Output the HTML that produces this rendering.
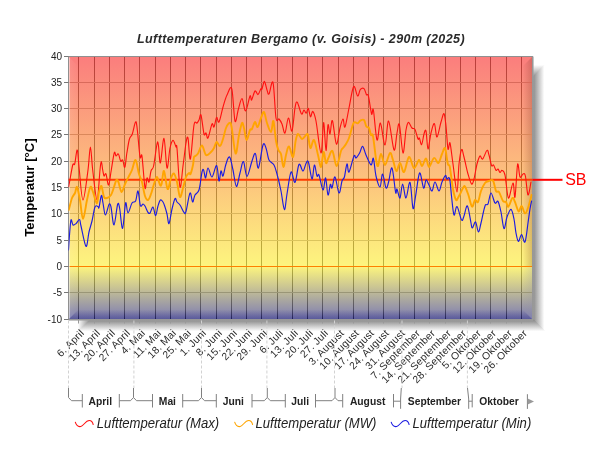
<!DOCTYPE html>
<html lang="de"><head><meta charset="utf-8"><title>Lufttemperaturen Bergamo</title>
<style>html,body{margin:0;padding:0;background:#fff;}svg{display:block;}text{font-family:"Liberation Sans", sans-serif;}</style></head><body>
<svg width="600" height="450" viewBox="0 0 600 450">
<defs>
<linearGradient id="bg" gradientUnits="userSpaceOnUse" x1="0" y1="56" x2="0" y2="319.5">
<stop offset="0" stop-color="rgb(251,125,125)"/>
<stop offset="0.798" stop-color="rgb(253,245,126)"/>
<stop offset="1" stop-color="rgb(122,122,180)"/>
</linearGradient>
<linearGradient id="gv" gradientUnits="userSpaceOnUse" x1="0" y1="56" x2="0" y2="319.5">
<stop offset="0" stop-color="rgb(186,60,60)"/>
<stop offset="0.798" stop-color="rgb(188,180,61)"/>
<stop offset="0.962" stop-color="rgb(82,80,105)"/>
<stop offset="1" stop-color="rgb(28,28,92)"/>
</linearGradient>
<linearGradient id="shR" x1="0" y1="0" x2="1" y2="0"><stop offset="0" stop-color="#848484"/><stop offset="1" stop-color="#ffffff"/></linearGradient>
<linearGradient id="shL" x1="0" y1="0" x2="1" y2="0"><stop offset="0" stop-color="#ffffff"/><stop offset="1" stop-color="#848484"/></linearGradient>
<linearGradient id="shB" x1="0" y1="0" x2="0" y2="1"><stop offset="0" stop-color="#848484"/><stop offset="1" stop-color="#ffffff"/></linearGradient>
<linearGradient id="shT" x1="0" y1="0" x2="0" y2="1"><stop offset="0" stop-color="#ffffff"/><stop offset="1" stop-color="#848484"/></linearGradient>
<linearGradient id="bvR" x1="0" y1="0" x2="1" y2="0"><stop offset="0" stop-color="#602020" stop-opacity="0"/><stop offset="1" stop-color="#602010" stop-opacity="0.24"/></linearGradient>
<linearGradient id="bvR2" x1="0" y1="0" x2="1" y2="0"><stop offset="0" stop-color="#9090a0" stop-opacity="0"/><stop offset="1" stop-color="#9090a0" stop-opacity="0.25"/></linearGradient>
<linearGradient id="bvB" x1="0" y1="0" x2="0" y2="1"><stop offset="0" stop-color="rgb(40,40,120)" stop-opacity="0"/><stop offset="1" stop-color="rgb(40,40,120)" stop-opacity="0.42"/></linearGradient>
<linearGradient id="bvL" x1="0" y1="0" x2="1" y2="0"><stop offset="0" stop-color="#fff" stop-opacity="0.10"/><stop offset="1" stop-color="#fff" stop-opacity="0"/></linearGradient>
<clipPath id="cp"><rect x="68.5" y="56.5" width="464.0" height="263.0"/></clipPath>
</defs>
<rect width="600" height="450" fill="#fff"/>
<polygon points="532.5,65 544.2,65 544.2,66 533.5,78.0 532.5,78.0" fill="url(#shT)"/>
<polygon points="78,319.5 91.0,319.5 91.0,320.5 79,331.2 78,331.2" fill="url(#shL)"/>
<polygon points="532.5,77.0 544.2,65 544.2,331.2 532.5,319.5" fill="url(#shR)"/>
<polygon points="90.0,319.5 533.7,319.5 545.4000000000001,331.2 78,331.2" fill="url(#shB)"/>
<rect x="68.5" y="56.5" width="464.0" height="263.0" fill="url(#bg)"/>
<polygon points="522.5,66.5 532.5,56.5 532.5,266.5 522.5,266.5" fill="url(#bvR)"/>
<polygon points="522.5,266.5 532.5,266.5 532.5,319.5 522.5,309.5" fill="url(#bvR2)"/>
<polygon points="78.5,309.5 522.5,309.5 532.5,319.5 68.5,319.5" fill="url(#bvB)"/>
<polygon points="68.5,56.5 78.5,66.5 78.5,309.5 68.5,319.5" fill="url(#bvL)"/>
<path d="M78.50,56.5V319.5M94.50,56.5V319.5M109.50,56.5V319.5M124.50,56.5V319.5M139.50,56.5V319.5M155.50,56.5V319.5M170.50,56.5V319.5M185.50,56.5V319.5M200.50,56.5V319.5M216.50,56.5V319.5M231.50,56.5V319.5M246.50,56.5V319.5M261.50,56.5V319.5M277.50,56.5V319.5M292.50,56.5V319.5M307.50,56.5V319.5M322.50,56.5V319.5M338.50,56.5V319.5M353.50,56.5V319.5M368.50,56.5V319.5M383.50,56.5V319.5M399.50,56.5V319.5M414.50,56.5V319.5M429.50,56.5V319.5M445.50,56.5V319.5M460.50,56.5V319.5M475.50,56.5V319.5M490.50,56.5V319.5M506.50,56.5V319.5M521.50,56.5V319.5" stroke="url(#gv)" stroke-width="1" fill="none"/>
<line x1="68.5" x2="532.5" y1="292.5" y2="292.5" stroke="rgb(154,150,119)" stroke-width="1"/>
<line x1="68.5" x2="532.5" y1="240.5" y2="240.5" stroke="rgb(219,196,92)" stroke-width="1"/>
<line x1="68.5" x2="532.5" y1="213.5" y2="213.5" stroke="rgb(218,181,92)" stroke-width="1"/>
<line x1="68.5" x2="532.5" y1="187.5" y2="187.5" stroke="rgb(218,166,92)" stroke-width="1"/>
<line x1="68.5" x2="532.5" y1="161.5" y2="161.5" stroke="rgb(218,151,92)" stroke-width="1"/>
<line x1="68.5" x2="532.5" y1="134.5" y2="134.5" stroke="rgb(218,136,91)" stroke-width="1"/>
<line x1="68.5" x2="532.5" y1="108.5" y2="108.5" stroke="rgb(217,121,91)" stroke-width="1"/>
<line x1="68.5" x2="532.5" y1="82.5" y2="82.5" stroke="rgb(217,106,91)" stroke-width="1"/>
<line x1="68.5" x2="532.5" y1="266.50" y2="266.50" stroke="#ff8000" stroke-width="1.2"/>
<rect x="68.5" y="56.5" width="464.0" height="263.0" fill="none" stroke="#909090" stroke-width="1"/>
<path d="M533.1,56.5V320.1H68.5" fill="none" stroke="#a0a0a0" stroke-width="1"/>
<line x1="69.5" x2="69.5" y1="57.5" y2="318.5" stroke="#fff" stroke-opacity="0.45" stroke-width="1"/>
<line x1="68.5" x2="532.5" y1="179.8" y2="179.8" stroke="#ff3c00" stroke-width="2"/>
<line x1="532.5" x2="562.5" y1="179.8" y2="179.8" stroke="#ff0000" stroke-width="2"/>
<text transform="translate(565.2,185.3) scale(0.925,1)" font-size="17.3" fill="#ff0000">SB</text>
<g clip-path="url(#cp)" fill="none" stroke-linejoin="round" stroke-linecap="round">
<path d="M68.5,186.0C68.6,185.8 68.5,188.5 69.0,185.0C69.7,181.5 71.8,168.5 72.7,165.0C73.7,161.5 73.9,166.5 74.7,164.0C75.5,161.5 76.5,149.0 77.3,150.0C78.1,151.0 78.3,161.7 79.3,170.0C80.2,178.3 81.5,200.0 83.0,200.0C84.5,200.0 86.8,178.8 88.0,170.0C89.2,161.2 89.6,147.0 90.4,147.0C91.2,147.0 91.6,161.2 92.7,170.0C93.8,178.8 95.8,200.0 97.0,200.0C98.2,200.0 99.3,176.4 100.0,170.0C100.7,163.6 100.8,161.5 101.3,161.5C101.8,161.5 102.2,167.6 102.7,170.0C103.2,172.4 103.5,175.3 104.0,176.0C104.5,176.7 105.2,172.5 106.0,174.0C106.8,175.5 107.7,185.7 108.6,185.0C109.5,184.3 110.3,175.4 111.3,170.0C112.2,164.6 113.5,155.0 114.3,152.7C115.1,150.4 115.3,155.8 116.0,156.0C116.7,156.2 117.6,153.1 118.4,154.0C119.2,154.9 120.0,160.3 120.7,161.3C121.4,162.3 122.0,159.0 122.7,160.0C123.4,161.0 124.1,168.3 124.8,167.3C125.5,166.3 126.0,158.6 126.7,154.0C127.5,149.4 128.4,142.8 129.3,139.5C130.2,136.2 131.3,136.9 132.3,134.0C133.3,131.1 134.6,123.5 135.4,122.3C136.2,121.1 136.2,121.3 137.0,127.0C137.8,132.7 139.2,151.8 140.0,156.7C140.8,161.6 141.2,151.1 142.0,156.3C142.8,161.5 144.2,184.4 145.0,188.0C145.8,191.6 146.3,179.0 147.0,178.0C147.7,177.0 148.3,183.2 149.0,182.0C149.7,180.8 150.2,173.7 151.0,171.0C151.8,168.3 152.6,170.5 153.6,166.0C154.6,161.5 156.2,147.5 157.0,144.0C157.8,140.5 157.8,141.8 158.4,145.0C159.0,148.2 159.5,164.1 160.4,163.0C161.3,161.9 162.9,137.6 164.0,138.4C165.1,139.2 166.0,166.4 167.0,168.0C168.0,169.6 169.0,152.6 170.0,148.0C171.0,143.4 172.0,140.6 173.0,140.4C174.0,140.2 175.3,145.7 176.0,147.0C176.7,148.3 176.3,141.8 177.0,148.5C177.7,155.2 179.0,184.1 180.0,187.0C181.0,189.9 182.0,173.3 183.0,166.0C184.0,158.7 185.2,147.7 186.0,143.0C186.8,138.3 187.3,135.3 188.0,138.0C188.7,140.7 189.4,161.2 190.4,159.0C191.4,156.8 192.9,131.0 194.0,125.0C195.1,119.0 196.2,123.8 197.0,123.0C197.8,122.2 198.3,121.3 199.0,120.0C199.7,118.7 200.2,112.7 201.0,115.0C201.8,117.3 203.2,131.0 204.0,134.0C204.8,137.0 205.3,132.3 206.0,133.0C206.7,133.7 207.0,139.5 208.0,138.0C209.0,136.5 211.0,125.8 212.0,124.0C213.0,122.2 213.2,128.1 214.0,127.0C214.8,125.9 215.8,118.2 216.6,117.4C217.4,116.6 217.9,123.7 219.0,122.0C220.1,120.3 221.7,111.5 223.0,107.0C224.3,102.5 225.5,98.0 227.0,95.0C228.5,92.0 230.5,84.5 231.8,88.8C233.1,93.1 233.9,117.6 235.0,121.0C236.1,124.4 237.2,112.7 238.4,109.0C239.6,105.3 240.8,98.3 242.0,98.6C243.2,98.9 244.3,111.4 245.6,111.0C246.9,110.6 249.0,97.8 250.0,96.0C251.0,94.2 250.8,100.8 251.6,100.0C252.4,99.2 253.9,91.9 255.0,91.0C256.1,90.1 257.0,95.0 258.0,94.6C259.0,94.2 260.3,89.5 261.0,88.6C261.7,87.7 261.4,90.2 262.0,89.0C262.6,87.8 263.6,81.2 264.4,81.4C265.2,81.6 266.2,87.9 267.0,90.0C267.8,92.1 268.0,95.2 269.0,94.0C270.0,92.8 271.8,78.6 273.0,82.6C274.2,86.6 275.0,111.9 276.0,118.0C277.0,124.1 278.0,118.0 279.0,119.0C280.0,120.0 281.0,121.7 282.0,124.0C283.0,126.3 283.9,134.0 285.0,133.0C286.1,132.0 287.2,118.3 288.4,118.0C289.6,117.7 290.9,132.7 292.0,131.0C293.1,129.3 294.1,112.8 295.0,108.0C295.9,103.2 296.1,101.2 297.2,102.2C298.3,103.2 300.4,112.7 301.5,114.0C302.6,115.3 303.2,110.1 304.0,110.0C304.8,109.9 305.5,113.5 306.2,113.2C306.9,113.0 307.6,107.9 308.3,108.5C309.0,109.1 309.8,116.3 310.5,116.8C311.2,117.3 311.9,110.8 312.8,111.5C313.7,112.2 314.6,114.1 316.0,121.0C317.4,127.9 319.7,152.7 321.0,153.0C322.3,153.3 322.8,123.0 323.6,122.6C324.4,122.2 325.3,150.2 326.0,150.6C326.7,151.0 327.3,127.8 328.0,125.0C328.7,122.2 329.3,134.7 330.0,134.0C330.7,133.3 331.3,118.9 332.4,120.6C333.5,122.3 335.1,142.8 336.4,144.0C337.7,145.2 338.9,132.2 340.0,128.0C341.1,123.8 342.2,119.2 343.0,119.0C343.8,118.8 344.0,128.8 345.0,127.0C346.0,125.2 347.6,114.7 349.0,108.0C350.4,101.3 352.2,88.6 353.6,86.6C355.0,84.6 356.5,95.5 357.6,96.0C358.7,96.5 359.3,90.6 360.4,89.4C361.5,88.2 363.0,87.7 364.0,88.6C365.0,89.5 365.7,93.4 366.4,94.6C367.1,95.8 367.5,92.8 368.4,96.0C369.3,99.2 370.8,111.7 371.6,114.0C372.4,116.3 372.5,105.7 373.4,110.0C374.3,114.3 375.8,137.8 377.0,140.0C378.2,142.2 379.1,122.2 380.4,123.0C381.7,123.8 383.6,145.3 385.0,145.0C386.4,144.7 387.1,120.2 388.6,121.0C390.1,121.8 392.6,148.0 394.0,150.0C395.4,152.0 396.1,137.2 397.0,133.0C397.9,128.8 398.4,121.3 399.4,124.6C400.4,127.9 401.9,152.1 403.0,153.0C404.1,153.9 405.1,135.1 406.0,130.0C406.9,124.9 407.4,122.7 408.4,122.4C409.4,122.1 410.9,126.8 412.0,128.0C413.1,129.2 414.0,127.6 415.0,129.4C416.0,131.2 417.3,137.6 418.0,139.0C418.7,140.4 418.8,137.1 419.4,138.0C420.0,138.9 420.8,145.3 421.6,144.6C422.4,143.9 423.3,136.3 424.0,134.0C424.7,131.7 425.3,128.5 426.0,131.0C426.7,133.5 427.2,148.7 428.0,149.0C428.8,149.3 429.9,137.2 431.0,133.0C432.1,128.8 433.4,122.9 434.4,123.6C435.4,124.3 435.9,137.3 437.0,137.0C438.1,136.7 439.8,125.9 441.0,122.0C442.2,118.1 443.2,112.9 444.0,113.6C444.8,114.3 445.3,120.1 446.0,126.0C446.7,131.9 447.3,146.2 448.0,149.0C448.7,151.8 449.2,140.5 450.0,143.0C450.8,145.5 451.8,155.8 453.0,164.0C454.2,172.2 456.0,192.0 457.0,192.0C458.0,192.0 458.2,171.1 459.0,164.0C459.8,156.9 460.8,150.8 461.6,149.6C462.4,148.4 462.9,152.9 464.0,157.0C465.1,161.1 466.7,169.5 468.0,174.0C469.3,178.5 470.6,183.2 471.6,184.0C472.6,184.8 473.1,182.3 474.0,179.0C474.9,175.7 476.0,167.8 477.0,164.0C478.0,160.2 479.1,156.8 480.0,156.0C480.9,155.2 481.4,159.9 482.6,159.0C483.8,158.1 485.9,151.1 487.0,150.4C488.1,149.7 488.2,152.5 489.0,155.0C489.8,157.5 490.8,163.9 491.6,165.6C492.4,167.3 492.9,164.2 493.6,165.0C494.3,165.8 495.3,169.7 496.0,170.4C496.7,171.1 497.3,168.7 498.0,169.0C498.7,169.3 499.3,172.2 500.0,172.4C500.7,172.6 501.2,170.0 502.0,170.4C502.8,170.8 503.9,170.4 505.0,175.0C506.1,179.6 507.1,196.7 508.4,198.0C509.7,199.3 511.9,183.2 513.0,183.0C514.1,182.8 514.2,200.1 515.0,197.0C515.8,193.9 516.8,167.7 517.6,164.4C518.4,161.1 519.1,175.4 520.0,177.0C520.9,178.6 522.1,174.2 523.0,174.0C523.9,173.8 524.6,172.5 525.4,176.0C526.2,179.5 527.1,194.0 528.0,195.0C528.9,196.0 530.5,184.2 531.0,182.0" stroke="#ff1010" stroke-width="1.12"/>
<path d="M68.5,210.0C68.6,209.8 68.5,211.0 69.0,209.0C69.6,207.0 71.0,200.7 72.0,198.0C73.0,195.3 74.2,194.8 75.0,193.0C75.8,191.2 76.2,185.8 77.0,187.0C77.8,188.2 79.0,194.7 80.0,200.0C81.0,205.3 81.8,219.0 83.0,219.0C84.2,219.0 85.8,205.3 87.0,200.0C88.2,194.7 89.4,188.3 90.4,187.0C91.4,185.7 91.9,189.2 93.0,192.0C94.1,194.8 95.8,203.5 96.8,203.5C97.8,203.5 98.2,194.9 99.0,192.0C99.8,189.1 100.6,185.2 101.4,186.0C102.2,186.8 103.1,195.0 104.0,197.0C104.9,199.0 105.8,198.3 107.0,198.0C108.2,197.7 109.8,196.8 111.0,195.0C112.2,193.2 113.1,189.5 114.0,187.0C114.9,184.5 115.7,180.8 116.4,180.0C117.1,179.2 117.5,180.0 118.4,182.0C119.3,184.0 120.5,191.7 121.6,192.0C122.7,192.3 123.8,186.7 125.0,184.0C126.2,181.3 127.8,178.3 129.0,176.0C130.2,173.7 130.9,172.7 132.0,170.0C133.1,167.3 134.4,159.3 135.6,160.0C136.8,160.7 137.9,170.3 139.0,174.0C140.1,177.7 141.0,178.3 142.0,182.0C143.0,185.7 144.0,193.0 145.0,196.0C146.0,199.0 147.0,200.3 148.0,200.0C149.0,199.7 150.0,196.7 151.0,194.0C152.0,191.3 153.0,186.8 154.0,184.0C155.0,181.2 156.0,176.8 157.0,177.0C158.0,177.2 159.2,183.8 160.0,185.0C160.8,186.2 160.9,186.3 161.6,184.0C162.3,181.7 163.0,170.2 164.0,171.0C165.0,171.8 166.4,187.8 167.6,189.0C168.8,190.2 169.9,180.6 171.0,178.0C172.1,175.4 173.0,172.8 174.0,173.5C175.0,174.2 176.0,178.1 177.0,182.0C178.0,185.9 179.0,196.0 180.0,197.0C181.0,198.0 182.0,191.3 183.0,188.0C184.0,184.7 185.0,179.5 186.0,177.0C187.0,174.5 188.2,173.5 189.0,173.0C189.8,172.5 189.8,175.3 190.5,174.0C191.2,172.7 192.4,167.8 193.0,165.0C193.6,162.2 193.6,158.5 194.0,157.0C194.4,155.5 194.8,156.6 195.5,156.0C196.2,155.4 196.9,155.2 198.0,153.5C199.1,151.8 200.7,145.2 202.0,145.5C203.3,145.8 204.5,153.9 206.0,155.0C207.5,156.1 209.7,153.2 211.0,152.0C212.3,150.8 213.1,149.7 214.0,148.0C214.9,146.3 215.6,142.3 216.6,142.0C217.6,141.7 218.9,146.5 220.0,146.0C221.1,145.5 222.0,142.0 223.0,139.0C224.0,136.0 224.9,130.7 226.0,128.0C227.1,125.3 228.7,123.2 229.6,123.0C230.5,122.8 230.6,121.9 231.6,127.0C232.6,132.1 234.4,152.2 235.6,153.5C236.8,154.8 237.9,140.1 239.0,135.0C240.1,129.9 241.2,124.2 242.0,123.0C242.8,121.8 243.2,125.2 244.0,128.0C244.8,130.8 245.6,139.7 246.6,140.0C247.6,140.3 249.1,131.8 250.0,130.0C250.9,128.2 251.2,130.3 252.0,129.0C252.8,127.7 254.1,122.3 255.0,122.0C255.9,121.7 256.6,127.7 257.6,127.0C258.6,126.3 259.9,120.5 261.0,118.0C262.1,115.5 263.0,111.2 264.0,112.0C265.0,112.8 265.8,119.7 267.0,123.0C268.2,126.3 269.9,132.3 271.0,132.0C272.1,131.7 272.6,119.5 273.4,121.0C274.2,122.5 275.2,136.2 276.0,141.0C276.8,145.8 277.6,147.8 278.4,150.0C279.2,152.2 280.2,151.2 281.0,154.0C281.8,156.8 282.6,166.8 283.4,167.0C284.2,167.2 285.1,158.4 286.0,155.0C286.9,151.6 287.8,146.2 289.0,146.5C290.2,146.8 291.9,157.9 293.0,157.0C294.1,156.1 294.8,144.8 295.6,141.0C296.4,137.2 296.9,134.3 298.0,134.0C299.1,133.7 300.7,138.8 302.0,139.0C303.3,139.2 305.0,135.7 306.0,135.0C307.0,134.3 307.3,132.8 308.0,135.0C308.7,137.2 309.4,147.2 310.4,148.0C311.4,148.8 312.7,138.8 314.0,140.0C315.3,141.2 316.8,150.5 318.0,155.0C319.2,159.5 320.1,167.5 321.0,167.0C321.9,166.5 322.8,152.7 323.6,152.0C324.4,151.3 325.2,162.0 326.0,163.0C326.8,164.0 327.3,160.0 328.4,158.0C329.5,156.0 331.0,149.7 332.4,151.0C333.8,152.3 335.2,166.0 336.6,166.0C338.0,166.0 339.9,154.0 341.0,151.0C342.1,148.0 342.2,149.2 343.0,148.0C343.8,146.8 345.0,145.7 346.0,144.0C347.0,142.3 347.7,141.5 349.0,138.0C350.3,134.5 352.2,125.4 353.6,123.0C355.0,120.6 356.5,123.8 357.6,123.4C358.7,123.0 359.3,121.2 360.4,120.6C361.5,120.0 363.0,119.0 364.0,120.0C365.0,121.0 365.6,125.3 366.4,126.6C367.2,127.9 368.2,126.6 369.0,128.0C369.8,129.4 370.3,133.7 371.0,135.0C371.7,136.3 372.2,132.0 373.0,136.0C373.8,140.0 375.2,154.0 376.0,159.0C376.8,164.0 377.2,166.8 378.0,166.0C378.8,165.2 379.8,154.2 381.0,154.0C382.2,153.8 383.5,165.2 385.0,165.0C386.5,164.8 388.7,153.8 390.0,153.0C391.3,152.2 391.9,157.0 393.0,160.0C394.1,163.0 395.2,170.5 396.4,171.0C397.6,171.5 398.7,162.8 400.0,163.0C401.3,163.2 402.5,173.0 404.0,172.0C405.5,171.0 407.3,157.7 409.0,157.0C410.7,156.3 412.3,167.5 414.0,168.0C415.7,168.5 417.7,160.3 419.0,160.0C420.3,159.7 420.8,166.2 422.0,166.0C423.2,165.8 424.8,158.3 426.0,158.5C427.2,158.7 427.7,167.1 429.0,167.0C430.3,166.9 432.4,158.7 434.0,158.0C435.6,157.3 437.1,163.7 438.4,163.0C439.7,162.3 440.9,156.5 442.0,154.0C443.1,151.5 444.2,147.3 445.0,148.0C445.8,148.7 446.3,155.2 446.8,158.0C447.3,160.8 447.5,163.2 448.0,164.5C448.5,165.8 449.1,164.2 449.6,166.0C450.1,167.8 450.4,171.2 451.0,175.0C451.6,178.8 452.2,184.8 453.0,189.0C453.8,193.2 455.0,198.8 456.0,200.0C457.0,201.2 457.8,198.0 459.0,196.0C460.2,194.0 462.0,189.6 463.0,188.0C464.0,186.4 464.1,185.4 465.0,186.6C465.9,187.8 467.2,191.7 468.4,195.0C469.6,198.3 470.9,205.8 472.0,206.6C473.1,207.4 474.0,200.8 475.0,200.0C476.0,199.2 477.0,203.5 478.0,202.0C479.0,200.5 479.8,194.2 481.0,191.0C482.2,187.8 483.7,184.7 485.0,183.0C486.3,181.3 487.7,181.4 489.0,181.0C490.3,180.6 491.8,178.9 493.0,180.6C494.2,182.3 495.0,189.1 496.0,191.0C497.0,192.9 497.8,190.3 499.0,192.0C500.2,193.7 501.8,199.3 503.0,201.0C504.2,202.7 505.1,201.1 506.0,202.0C506.9,202.9 507.3,207.3 508.4,206.6C509.5,205.9 511.3,198.8 512.4,198.0C513.5,197.2 514.0,199.8 515.0,202.0C516.0,204.2 517.5,210.7 518.6,211.4C519.7,212.1 520.5,205.7 521.6,206.0C522.7,206.3 523.9,213.1 525.0,213.4C526.1,213.7 526.9,211.1 528.0,208.0C529.1,204.9 531.0,197.2 531.6,195.0" stroke="#ffa500" stroke-width="1.9"/>
<path d="M68.5,250.0C68.7,247.5 69.1,240.0 69.5,235.0C69.9,230.0 70.4,221.7 71.0,220.0C71.6,218.3 72.2,224.4 73.0,225.0C73.8,225.6 74.9,224.5 76.0,223.6C77.1,222.7 78.7,219.1 79.5,219.5C80.3,219.9 79.9,221.5 81.0,226.0C82.1,230.5 84.7,245.4 86.0,246.4C87.3,247.4 88.0,236.2 89.0,232.0C90.0,227.8 91.0,225.2 92.0,221.0C93.0,216.8 94.0,209.4 95.0,207.0C96.0,204.6 97.3,206.4 98.0,206.5C98.7,206.6 98.4,209.3 99.0,207.5C99.6,205.7 100.7,196.2 101.4,195.5C102.1,194.8 102.3,199.8 103.0,203.0C103.7,206.2 104.4,214.8 105.4,215.0C106.4,215.2 108.1,205.8 109.0,204.5C109.9,203.2 110.2,203.6 111.0,207.0C111.8,210.4 112.9,225.4 114.0,225.0C115.1,224.6 116.7,207.3 117.6,204.5C118.5,201.7 118.8,204.0 119.6,208.0C120.4,212.0 121.6,229.2 122.6,228.4C123.6,227.6 124.7,205.6 125.6,203.0C126.5,200.4 126.9,213.0 128.0,213.0C129.1,213.0 130.7,205.0 132.0,203.0C133.3,201.0 134.6,203.0 135.6,201.0C136.6,199.0 137.2,190.2 138.0,191.0C138.8,191.8 139.6,203.4 140.4,205.6C141.2,207.8 142.2,203.9 143.0,204.0C143.8,204.1 144.2,204.6 145.0,206.0C145.8,207.4 147.2,211.2 148.0,212.4C148.8,213.6 149.2,213.9 150.0,213.0C150.8,212.1 152.1,206.6 153.0,207.0C153.9,207.4 154.8,215.8 155.6,215.6C156.4,215.4 157.2,208.6 158.0,206.0C158.8,203.4 159.6,200.7 160.4,200.0C161.2,199.3 162.2,200.8 163.0,202.0C163.8,203.2 164.3,205.0 165.0,207.0C165.7,209.0 166.3,211.2 167.0,214.0C167.7,216.8 168.2,224.4 169.0,223.6C169.8,222.8 171.0,213.2 172.0,209.0C173.0,204.8 174.2,199.8 175.0,198.6C175.8,197.4 176.2,200.9 177.0,202.0C177.8,203.1 178.8,203.3 180.0,205.0C181.2,206.7 183.0,211.3 184.0,212.4C185.0,213.5 185.0,214.7 186.0,211.5C187.0,208.3 188.9,194.6 190.0,193.0C191.1,191.4 191.8,201.7 192.6,202.0C193.4,202.3 193.9,197.0 195.0,195.0C196.1,193.0 197.8,193.8 199.0,190.0C200.2,186.2 201.2,175.3 202.0,172.0C202.8,168.7 203.0,169.0 203.6,170.0C204.2,171.0 204.9,178.3 205.6,178.0C206.3,177.7 206.9,168.2 208.0,168.0C209.1,167.8 210.6,177.4 212.0,177.0C213.4,176.6 215.4,164.9 216.6,165.6C217.8,166.3 218.3,180.1 219.0,181.0C219.7,181.9 220.3,171.8 221.0,171.0C221.7,170.2 222.2,177.2 223.0,176.0C223.8,174.8 224.9,167.2 226.0,164.0C227.1,160.8 228.4,156.0 229.6,157.0C230.8,158.0 231.9,165.1 233.0,170.0C234.1,174.9 235.2,185.9 236.4,186.4C237.6,186.9 238.8,177.1 240.0,173.0C241.2,168.9 242.2,161.0 243.4,161.6C244.6,162.2 245.6,176.5 247.0,176.4C248.4,176.3 250.6,164.8 252.0,161.0C253.4,157.2 254.3,152.4 255.4,153.6C256.5,154.8 257.1,169.4 258.4,168.0C259.7,166.6 261.7,148.3 263.0,145.0C264.3,141.7 265.0,145.5 266.0,148.0C267.0,150.5 267.7,157.2 269.0,160.0C270.3,162.8 272.7,162.7 274.0,165.0C275.3,167.3 275.8,169.7 277.0,174.0C278.2,178.3 279.8,185.1 281.0,191.0C282.2,196.9 283.4,209.1 284.4,209.6C285.4,210.1 285.9,200.3 287.0,194.0C288.1,187.7 289.7,173.9 291.0,172.0C292.3,170.1 293.7,183.7 295.0,182.4C296.3,181.1 297.7,166.3 299.0,164.4C300.3,162.5 301.8,171.2 303.0,171.0C304.2,170.8 305.1,165.0 306.0,163.5C306.9,162.0 307.4,159.4 308.4,162.0C309.4,164.6 311.0,178.5 312.0,179.0C313.0,179.5 313.6,165.5 314.4,165.0C315.2,164.5 316.2,174.3 317.0,176.0C317.8,177.7 318.0,172.7 319.0,175.0C320.0,177.3 321.9,189.5 323.0,190.0C324.1,190.5 324.8,177.2 325.6,178.0C326.4,178.8 327.2,193.9 328.0,195.0C328.8,196.1 329.7,185.6 330.4,184.4C331.1,183.2 331.2,189.2 332.0,188.0C332.8,186.8 333.8,176.2 335.0,177.0C336.2,177.8 337.8,192.3 339.0,193.0C340.2,193.7 341.1,183.7 342.0,181.0C342.9,178.3 343.6,179.8 344.4,177.0C345.2,174.2 346.2,164.8 347.0,164.0C347.8,163.2 347.8,173.3 349.0,172.0C350.2,170.7 352.8,158.3 354.0,156.0C355.2,153.7 355.1,158.5 356.0,158.0C356.9,157.5 358.5,154.9 359.6,153.0C360.7,151.1 361.5,146.1 362.6,146.4C363.7,146.7 364.6,151.9 366.0,155.0C367.4,158.1 369.8,164.4 371.0,165.0C372.2,165.6 372.6,156.6 373.4,158.4C374.2,160.2 374.9,171.2 376.0,176.0C377.1,180.8 378.9,187.3 380.0,187.0C381.1,186.7 381.6,173.8 382.6,174.0C383.6,174.2 385.0,186.7 386.0,188.0C387.0,189.3 387.6,185.3 388.6,182.0C389.6,178.7 390.8,166.3 392.0,168.0C393.2,169.7 394.8,188.9 395.6,192.4C396.4,195.9 396.3,188.1 397.0,189.0C397.7,189.9 399.1,198.8 400.0,198.0C400.9,197.2 401.6,184.0 402.6,184.0C403.6,184.0 404.8,198.3 406.0,198.0C407.2,197.7 408.8,180.7 410.0,182.4C411.2,184.1 412.1,206.1 413.0,208.4C413.9,210.7 414.5,201.9 415.6,196.0C416.7,190.1 418.3,174.3 419.6,173.0C420.9,171.7 422.5,186.8 423.6,188.0C424.7,189.2 425.1,180.5 426.0,180.0C426.9,179.5 428.0,183.2 429.0,185.0C430.0,186.8 431.0,191.5 432.0,191.0C433.0,190.5 433.8,182.0 435.0,182.0C436.2,182.0 437.8,191.0 439.0,191.0C440.2,191.0 440.9,184.6 442.0,182.0C443.1,179.4 444.6,175.9 445.4,175.4C446.2,174.9 446.3,178.5 447.0,179.0C447.7,179.5 448.8,175.6 449.6,178.6C450.4,181.6 450.9,190.9 451.6,197.0C452.3,203.1 453.1,213.4 454.0,215.0C454.9,216.6 455.7,205.8 457.0,206.6C458.3,207.4 460.4,218.4 461.6,220.0C462.8,221.6 463.0,218.3 464.0,216.0C465.0,213.7 466.2,204.8 467.4,206.0C468.6,207.2 470.2,219.3 471.0,223.0C471.8,226.7 471.6,228.2 472.4,228.0C473.2,227.8 474.6,221.3 475.6,222.0C476.6,222.7 477.5,231.8 478.4,232.0C479.3,232.2 479.9,227.3 481.0,223.0C482.1,218.7 483.8,209.2 485.0,206.0C486.2,202.8 487.0,206.2 488.0,204.0C489.0,201.8 489.8,193.2 491.0,193.0C492.2,192.8 493.8,201.6 495.0,203.0C496.2,204.4 497.0,199.9 498.0,201.4C499.0,202.9 500.0,207.5 501.0,212.0C502.0,216.5 503.0,227.8 504.0,228.6C505.0,229.4 505.8,220.2 507.0,217.0C508.2,213.8 509.8,209.1 511.0,209.4C512.2,209.7 513.2,215.1 514.0,219.0C514.8,222.9 515.3,229.3 516.0,233.0C516.7,236.7 517.5,241.1 518.4,241.4C519.3,241.7 520.5,234.5 521.6,234.6C522.7,234.7 523.9,243.9 525.0,242.0C526.1,240.1 527.2,228.5 528.0,223.0C528.8,217.5 529.4,212.7 530.0,209.0C530.6,205.3 531.3,202.3 531.6,201.0" stroke="#1c1ce0" stroke-width="1.15"/>
</g>
<line x1="64.0" x2="68.5" y1="319.50" y2="319.50" stroke="#777" stroke-width="1"/>
<text x="62" y="323.1" font-size="10" text-anchor="end" fill="#222">-10</text>
<line x1="64.0" x2="68.5" y1="292.50" y2="292.50" stroke="#777" stroke-width="1"/>
<text x="62" y="296.1" font-size="10" text-anchor="end" fill="#222">-5</text>
<line x1="64.0" x2="68.5" y1="266.50" y2="266.50" stroke="#777" stroke-width="1"/>
<text x="62" y="270.1" font-size="10" text-anchor="end" fill="#222">0</text>
<line x1="64.0" x2="68.5" y1="240.50" y2="240.50" stroke="#777" stroke-width="1"/>
<text x="62" y="244.1" font-size="10" text-anchor="end" fill="#222">5</text>
<line x1="64.0" x2="68.5" y1="213.50" y2="213.50" stroke="#777" stroke-width="1"/>
<text x="62" y="217.1" font-size="10" text-anchor="end" fill="#222">10</text>
<line x1="64.0" x2="68.5" y1="187.50" y2="187.50" stroke="#777" stroke-width="1"/>
<text x="62" y="191.1" font-size="10" text-anchor="end" fill="#222">15</text>
<line x1="64.0" x2="68.5" y1="161.50" y2="161.50" stroke="#777" stroke-width="1"/>
<text x="62" y="165.1" font-size="10" text-anchor="end" fill="#222">20</text>
<line x1="64.0" x2="68.5" y1="134.50" y2="134.50" stroke="#777" stroke-width="1"/>
<text x="62" y="138.1" font-size="10" text-anchor="end" fill="#222">25</text>
<line x1="64.0" x2="68.5" y1="108.50" y2="108.50" stroke="#777" stroke-width="1"/>
<text x="62" y="112.1" font-size="10" text-anchor="end" fill="#222">30</text>
<line x1="64.0" x2="68.5" y1="82.50" y2="82.50" stroke="#777" stroke-width="1"/>
<text x="62" y="86.1" font-size="10" text-anchor="end" fill="#222">35</text>
<line x1="64.0" x2="68.5" y1="56.50" y2="56.50" stroke="#777" stroke-width="1"/>
<text x="62" y="60.1" font-size="10" text-anchor="end" fill="#222">40</text>
<text transform="translate(33.9,187.6) rotate(-90)" font-size="13.15" font-weight="bold" text-anchor="middle" fill="#000">Temperatur [°C]</text>
<text x="301" y="43" font-size="12.5" letter-spacing="0.42" font-weight="bold" font-style="italic" text-anchor="middle" fill="#2a2a2a">Lufttemperaturen Bergamo (v. Goisis) - 290m (2025)</text>
<line x1="78.50" x2="78.50" y1="319.5" y2="323.5" stroke="#999" stroke-width="1"/>
<text transform="translate(84.8,333.8) rotate(-45)" font-size="10.3" letter-spacing="0.25" text-anchor="end" fill="#2a2a2a">6. April</text>
<line x1="94.50" x2="94.50" y1="319.5" y2="323.5" stroke="#999" stroke-width="1"/>
<text transform="translate(100.8,333.8) rotate(-45)" font-size="10.3" letter-spacing="0.25" text-anchor="end" fill="#2a2a2a">13. April</text>
<line x1="109.50" x2="109.50" y1="319.5" y2="323.5" stroke="#999" stroke-width="1"/>
<text transform="translate(115.8,333.8) rotate(-45)" font-size="10.3" letter-spacing="0.25" text-anchor="end" fill="#2a2a2a">20. April</text>
<line x1="124.50" x2="124.50" y1="319.5" y2="323.5" stroke="#999" stroke-width="1"/>
<text transform="translate(130.8,333.8) rotate(-45)" font-size="10.3" letter-spacing="0.25" text-anchor="end" fill="#2a2a2a">27. April</text>
<line x1="139.50" x2="139.50" y1="319.5" y2="323.5" stroke="#999" stroke-width="1"/>
<text transform="translate(145.8,333.8) rotate(-45)" font-size="10.3" letter-spacing="0.25" text-anchor="end" fill="#2a2a2a">4. Mai</text>
<line x1="155.50" x2="155.50" y1="319.5" y2="323.5" stroke="#999" stroke-width="1"/>
<text transform="translate(161.8,333.8) rotate(-45)" font-size="10.3" letter-spacing="0.25" text-anchor="end" fill="#2a2a2a">11. Mai</text>
<line x1="170.50" x2="170.50" y1="319.5" y2="323.5" stroke="#999" stroke-width="1"/>
<text transform="translate(176.8,333.8) rotate(-45)" font-size="10.3" letter-spacing="0.25" text-anchor="end" fill="#2a2a2a">18. Mai</text>
<line x1="185.50" x2="185.50" y1="319.5" y2="323.5" stroke="#999" stroke-width="1"/>
<text transform="translate(191.8,333.8) rotate(-45)" font-size="10.3" letter-spacing="0.25" text-anchor="end" fill="#2a2a2a">25. Mai</text>
<line x1="200.50" x2="200.50" y1="319.5" y2="323.5" stroke="#999" stroke-width="1"/>
<text transform="translate(206.8,333.8) rotate(-45)" font-size="10.3" letter-spacing="0.25" text-anchor="end" fill="#2a2a2a">1. Juni</text>
<line x1="216.50" x2="216.50" y1="319.5" y2="323.5" stroke="#999" stroke-width="1"/>
<text transform="translate(222.8,333.8) rotate(-45)" font-size="10.3" letter-spacing="0.25" text-anchor="end" fill="#2a2a2a">8. Juni</text>
<line x1="231.50" x2="231.50" y1="319.5" y2="323.5" stroke="#999" stroke-width="1"/>
<text transform="translate(237.8,333.8) rotate(-45)" font-size="10.3" letter-spacing="0.25" text-anchor="end" fill="#2a2a2a">15. Juni</text>
<line x1="246.50" x2="246.50" y1="319.5" y2="323.5" stroke="#999" stroke-width="1"/>
<text transform="translate(252.8,333.8) rotate(-45)" font-size="10.3" letter-spacing="0.25" text-anchor="end" fill="#2a2a2a">22. Juni</text>
<line x1="261.50" x2="261.50" y1="319.5" y2="323.5" stroke="#999" stroke-width="1"/>
<text transform="translate(267.8,333.8) rotate(-45)" font-size="10.3" letter-spacing="0.25" text-anchor="end" fill="#2a2a2a">29. Juni</text>
<line x1="277.50" x2="277.50" y1="319.5" y2="323.5" stroke="#999" stroke-width="1"/>
<text transform="translate(283.8,333.8) rotate(-45)" font-size="10.3" letter-spacing="0.25" text-anchor="end" fill="#2a2a2a">6. Juli</text>
<line x1="292.50" x2="292.50" y1="319.5" y2="323.5" stroke="#999" stroke-width="1"/>
<text transform="translate(298.8,333.8) rotate(-45)" font-size="10.3" letter-spacing="0.25" text-anchor="end" fill="#2a2a2a">13. Juli</text>
<line x1="307.50" x2="307.50" y1="319.5" y2="323.5" stroke="#999" stroke-width="1"/>
<text transform="translate(313.8,333.8) rotate(-45)" font-size="10.3" letter-spacing="0.25" text-anchor="end" fill="#2a2a2a">20. Juli</text>
<line x1="322.50" x2="322.50" y1="319.5" y2="323.5" stroke="#999" stroke-width="1"/>
<text transform="translate(328.8,333.8) rotate(-45)" font-size="10.3" letter-spacing="0.25" text-anchor="end" fill="#2a2a2a">27. Juli</text>
<line x1="338.50" x2="338.50" y1="319.5" y2="323.5" stroke="#999" stroke-width="1"/>
<text transform="translate(344.8,333.8) rotate(-45)" font-size="10.3" letter-spacing="0.25" text-anchor="end" fill="#2a2a2a">3. August</text>
<line x1="353.50" x2="353.50" y1="319.5" y2="323.5" stroke="#999" stroke-width="1"/>
<text transform="translate(359.8,333.8) rotate(-45)" font-size="10.3" letter-spacing="0.25" text-anchor="end" fill="#2a2a2a">10. August</text>
<line x1="368.50" x2="368.50" y1="319.5" y2="323.5" stroke="#999" stroke-width="1"/>
<text transform="translate(374.8,333.8) rotate(-45)" font-size="10.3" letter-spacing="0.25" text-anchor="end" fill="#2a2a2a">17. August</text>
<line x1="383.50" x2="383.50" y1="319.5" y2="323.5" stroke="#999" stroke-width="1"/>
<text transform="translate(389.8,333.8) rotate(-45)" font-size="10.3" letter-spacing="0.25" text-anchor="end" fill="#2a2a2a">24. August</text>
<line x1="399.50" x2="399.50" y1="319.5" y2="323.5" stroke="#999" stroke-width="1"/>
<text transform="translate(405.8,333.8) rotate(-45)" font-size="10.3" letter-spacing="0.25" text-anchor="end" fill="#2a2a2a">31. August</text>
<line x1="414.50" x2="414.50" y1="319.5" y2="323.5" stroke="#999" stroke-width="1"/>
<text transform="translate(420.8,333.8) rotate(-45)" font-size="10.3" letter-spacing="0.25" text-anchor="end" fill="#2a2a2a">7. September</text>
<line x1="429.50" x2="429.50" y1="319.5" y2="323.5" stroke="#999" stroke-width="1"/>
<text transform="translate(435.8,333.8) rotate(-45)" font-size="10.3" letter-spacing="0.25" text-anchor="end" fill="#2a2a2a">14. September</text>
<line x1="445.50" x2="445.50" y1="319.5" y2="323.5" stroke="#999" stroke-width="1"/>
<text transform="translate(451.8,333.8) rotate(-45)" font-size="10.3" letter-spacing="0.25" text-anchor="end" fill="#2a2a2a">21. September</text>
<line x1="460.50" x2="460.50" y1="319.5" y2="323.5" stroke="#999" stroke-width="1"/>
<text transform="translate(466.8,333.8) rotate(-45)" font-size="10.3" letter-spacing="0.25" text-anchor="end" fill="#2a2a2a">28. September</text>
<line x1="475.50" x2="475.50" y1="319.5" y2="323.5" stroke="#999" stroke-width="1"/>
<text transform="translate(481.8,333.8) rotate(-45)" font-size="10.3" letter-spacing="0.25" text-anchor="end" fill="#2a2a2a">5. Oktober</text>
<line x1="490.50" x2="490.50" y1="319.5" y2="323.5" stroke="#999" stroke-width="1"/>
<text transform="translate(496.8,333.8) rotate(-45)" font-size="10.3" letter-spacing="0.25" text-anchor="end" fill="#2a2a2a">12. Oktober</text>
<line x1="506.50" x2="506.50" y1="319.5" y2="323.5" stroke="#999" stroke-width="1"/>
<text transform="translate(512.8,333.8) rotate(-45)" font-size="10.3" letter-spacing="0.25" text-anchor="end" fill="#2a2a2a">19. Oktober</text>
<line x1="521.50" x2="521.50" y1="319.5" y2="323.5" stroke="#999" stroke-width="1"/>
<text transform="translate(527.8,333.8) rotate(-45)" font-size="10.3" letter-spacing="0.25" text-anchor="end" fill="#2a2a2a">26. Oktober</text>
<line x1="68.5" x2="68.5" y1="320.5" y2="388" stroke="#d2d2d2" stroke-width="1" stroke-dasharray="3,2"/>
<line x1="133.9" x2="133.9" y1="320.5" y2="388" stroke="#d2d2d2" stroke-width="1" stroke-dasharray="3,2"/>
<line x1="201.5" x2="201.5" y1="320.5" y2="388" stroke="#d2d2d2" stroke-width="1" stroke-dasharray="3,2"/>
<line x1="266.9" x2="266.9" y1="320.5" y2="388" stroke="#d2d2d2" stroke-width="1" stroke-dasharray="3,2"/>
<line x1="334.5" x2="334.5" y1="320.5" y2="388" stroke="#d2d2d2" stroke-width="1" stroke-dasharray="3,2"/>
<line x1="402.0" x2="402.0" y1="320.5" y2="388" stroke="#d2d2d2" stroke-width="1" stroke-dasharray="3,2"/>
<line x1="467.4" x2="467.4" y1="320.5" y2="388" stroke="#d2d2d2" stroke-width="1" stroke-dasharray="3,2"/>
<path d="M68.5,388V397.5" stroke="#808080" stroke-width="1" fill="none"/><path d="M68.5,397.5L71.5,400.7H82.3" stroke="#808080" stroke-width="1" fill="none"/>
<line x1="82.3" x2="82.3" y1="394" y2="407.5" stroke="#808080" stroke-width="1"/>
<path d="M133.5,388V397.5" stroke="#808080" stroke-width="1" fill="none"/><path d="M119.3,400.7H130.5L133.5,397.5" stroke="#808080" stroke-width="1" fill="none"/><path d="M133.5,397.5L136.5,400.7H152.5" stroke="#808080" stroke-width="1" fill="none"/>
<line x1="119.3" x2="119.3" y1="394" y2="407.5" stroke="#808080" stroke-width="1"/>
<line x1="152.5" x2="152.5" y1="394" y2="407.5" stroke="#808080" stroke-width="1"/>
<path d="M201.5,388V397.5" stroke="#808080" stroke-width="1" fill="none"/><path d="M182.7,400.7H198.5L201.5,397.5" stroke="#808080" stroke-width="1" fill="none"/><path d="M201.5,397.5L204.5,400.7H216.3" stroke="#808080" stroke-width="1" fill="none"/>
<line x1="182.7" x2="182.7" y1="394" y2="407.5" stroke="#808080" stroke-width="1"/>
<line x1="216.3" x2="216.3" y1="394" y2="407.5" stroke="#808080" stroke-width="1"/>
<path d="M267.3,388V397.5" stroke="#808080" stroke-width="1" fill="none"/><path d="M252,400.7H264.3L267.3,397.5" stroke="#808080" stroke-width="1" fill="none"/><path d="M267.3,397.5L270.3,400.7H285.3" stroke="#808080" stroke-width="1" fill="none"/>
<line x1="252" x2="252" y1="394" y2="407.5" stroke="#808080" stroke-width="1"/>
<line x1="285.3" x2="285.3" y1="394" y2="407.5" stroke="#808080" stroke-width="1"/>
<path d="M335,388V397.5" stroke="#808080" stroke-width="1" fill="none"/><path d="M315.5,400.7H332L335,397.5" stroke="#808080" stroke-width="1" fill="none"/><path d="M335,397.5L338,400.7H342.7" stroke="#808080" stroke-width="1" fill="none"/>
<line x1="315.5" x2="315.5" y1="394" y2="407.5" stroke="#808080" stroke-width="1"/>
<line x1="342.7" x2="342.7" y1="394" y2="407.5" stroke="#808080" stroke-width="1"/>
<path d="M401.3,388L400.6,399V408.8M393.5,394V407.4M393.5,401.2H400.6" stroke="#808080" stroke-width="1" fill="none"/>
<path d="M467.5,388L468.7,399V408.8M472.2,394V407.4M468.7,401.2H472.2" stroke="#808080" stroke-width="1" fill="none"/>
<path d="M527.4,394.2V408.9" stroke="#808080" stroke-width="1" fill="none"/>
<polygon points="527.7,398.6 534,401.5 527.7,404.5" fill="#999"/>
<text transform="translate(100.3,405.1) scale(0.945,1)" font-size="10.9" font-weight="bold" text-anchor="middle" fill="#222">April</text>
<text transform="translate(167.4,405.1) scale(0.945,1)" font-size="10.9" font-weight="bold" text-anchor="middle" fill="#222">Mai</text>
<text transform="translate(233.4,405.1) scale(0.945,1)" font-size="10.9" font-weight="bold" text-anchor="middle" fill="#222">Juni</text>
<text transform="translate(300.2,405.1) scale(0.945,1)" font-size="10.9" font-weight="bold" text-anchor="middle" fill="#222">Juli</text>
<text transform="translate(367.6,405.1) scale(0.945,1)" font-size="10.9" font-weight="bold" text-anchor="middle" fill="#222">August</text>
<text transform="translate(434.4,405.1) scale(0.945,1)" font-size="10.9" font-weight="bold" text-anchor="middle" fill="#222">September</text>
<text transform="translate(499,405.1) scale(0.945,1)" font-size="10.9" font-weight="bold" text-anchor="middle" fill="#222">Oktober</text>
<path d="M75.3,422.2C76.3,425.5 78.3,427.0 80.8,426.5C83.8,425.8 85.5,420.5 89.3,420.5C91.6,420.5 92.69999999999999,422.5 93.19999999999999,424.5" stroke="#ff1010" stroke-width="1.05" fill="none" stroke-linecap="round"/>
<text transform="translate(96.8,428.4) scale(0.875,1)" font-size="15" font-style="italic" fill="#222">Lufttemperatur (Max)</text>
<path d="M234.7,422.2C235.7,425.5 237.7,427.0 240.2,426.5C243.2,425.8 244.89999999999998,420.5 248.7,420.5C251.0,420.5 252.1,422.5 252.6,424.5" stroke="#ffa500" stroke-width="1.05" fill="none" stroke-linecap="round"/>
<text transform="translate(255.5,428.4) scale(0.875,1)" font-size="15" font-style="italic" fill="#222">Lufttemperatur (MW)</text>
<path d="M391.2,422.2C392.2,425.5 394.2,427.0 396.7,426.5C399.7,425.8 401.4,420.5 405.2,420.5C407.5,420.5 408.59999999999997,422.5 409.09999999999997,424.5" stroke="#1c1ce0" stroke-width="1.05" fill="none" stroke-linecap="round"/>
<text transform="translate(412.5,428.4) scale(0.875,1)" font-size="15" font-style="italic" fill="#222">Lufttemperatur (Min)</text>
</svg></body></html>
